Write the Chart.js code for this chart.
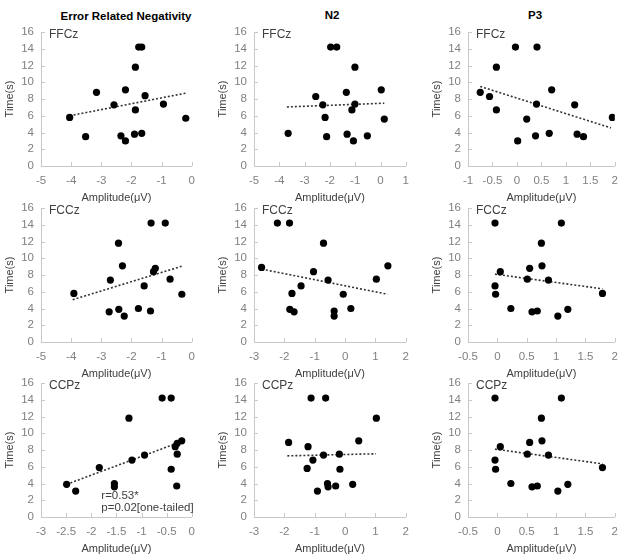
<!DOCTYPE html>
<html>
<head>
<meta charset="utf-8">
<script src="https://cdn.jsdelivr.net/npm/chart.js@4/dist/chart.umd.min.js"></script>
<style>
  html, body { margin: 0; padding: 0; background: #fff; overflow: hidden; }
  #wrap { position: relative; width: 626px; height: 558px; }
  #wrap canvas { position: absolute; }
  .colTitle {
    position: absolute; transform: translate(-50%, -50%);
    font: bold 11.5px "Liberation Sans", Arial, sans-serif; color: #000; white-space: nowrap;
  }
</style>
</head>
<body>
<div id="wrap">
  <div class="colTitle" style="left:126px; top:16px">Error Related Negativity</div>
  <div class="colTitle" style="left:332px; top:15px">N2</div>
  <div class="colTitle" style="left:535px; top:15px">P3</div>
</div>
<script>
// Amplitude (µV) and time (s) per panel
const ernFFCzAmp = [-4.05, -3.52, -3.16, -2.58, -2.35, -2.2, -2.2, -1.87, -1.87, -1.9, -1.76, -1.66, -1.66, -1.55, -0.94, -0.2];
const ernFFCzTime = [5.8, 3.5, 8.8, 7.3, 3.6, 9.1, 3.0, 11.8, 6.7, 3.8, 14.2, 14.2, 3.9, 8.4, 7.4, 5.7];
const ernFFCzTrend = [[-4.05, 6.0], [-0.2, 8.7]];

const n2FFCzAmp = [-3.65, -2.56, -2.28, -2.19, -2.13, -1.97, -1.73, -1.35, -1.32, -1.13, -1.07, -1.01, -1.01, -0.52, 0.03, 0.15];
const n2FFCzTime = [3.9, 8.3, 7.3, 5.8, 3.5, 14.2, 14.2, 8.8, 3.8, 6.7, 3.0, 11.8, 7.4, 3.6, 9.1, 5.6];
const n2FFCzTrend = [[-3.7, 7.05], [0.15, 7.5]];

const p3FFCzAmp = [-0.75, -0.56, -0.42, -0.42, -0.03, 0.015, 0.2, 0.38, 0.4, 0.41, 0.66, 0.71, 1.18, 1.23, 1.36, 1.95];
const p3FFCzTime = [8.8, 8.3, 11.8, 6.7, 14.2, 3.0, 5.6, 3.6, 7.4, 14.2, 3.9, 9.1, 7.3, 3.8, 3.5, 5.8];
const p3FFCzTrend = [[-0.75, 9.5], [1.92, 4.55]];

const ernFCCzAmp = [-3.91, -2.74, -2.7, -2.43, -2.42, -2.3, -2.24, -1.77, -1.58, -1.37, -1.35, -1.27, -1.21, -0.88, -0.72, -0.33];
const ernFCCzTime = [5.8, 3.6, 7.4, 11.8, 3.9, 9.1, 3.1, 4.0, 6.7, 3.7, 14.2, 8.4, 8.8, 14.2, 7.5, 5.7];
const ernFCCzTrend = [[-3.95, 5.05], [-0.33, 9.05]];

const n2FCCzAmp = [-2.75, -2.23, -1.83, -1.82, -1.75, -1.68, -1.45, -1.04, -0.71, -0.56, -0.36, -0.36, -0.06, 0.19, 1.03, 1.41];
const n2FCCzTime = [8.9, 14.2, 14.2, 3.9, 5.8, 3.6, 6.7, 8.4, 11.8, 7.4, 3.7, 3.1, 5.7, 4.0, 7.5, 9.1];
const n2FCCzTrend = [[-2.74, 8.7], [1.4, 5.7]];

const p3FCCzAmp = [-0.04, -0.04, -0.03, 0.05, 0.23, 0.51, 0.55, 0.59, 0.68, 0.75, 0.76, 0.87, 1.03, 1.09, 1.2, 1.79];
const p3FCCzTime = [14.2, 6.7, 5.7, 8.4, 4.0, 7.5, 8.8, 3.6, 3.7, 11.8, 9.1, 7.4, 3.1, 14.2, 3.9, 5.8];
const p3FCCzTrend = [[-0.04, 8.1], [1.79, 6.35]];

const ernCCPzAmp = [-2.49, -2.31, -1.84, -1.54, -1.54, -1.25, -1.19, -0.94, -0.59, -0.41, -0.41, -0.33, -0.29, -0.29, -0.3, -0.2];
const ernCCPzTime = [3.9, 3.1, 5.9, 4.0, 3.6, 11.8, 6.8, 7.4, 14.2, 14.2, 5.7, 8.4, 8.8, 7.5, 3.7, 9.1];
const ernCCPzTrend = [[-2.49, 3.9], [-0.21, 9.0]];

const n2CCPzAmp = [-1.86, -1.25, -1.22, -1.12, -1.06, -0.91, -0.71, -0.64, -0.58, -0.56, -0.31, -0.19, -0.17, 0.25, 0.45, 1.03];
const n2CCPzTime = [8.9, 5.8, 8.4, 14.2, 6.8, 3.1, 7.4, 14.2, 4.0, 3.6, 3.7, 7.5, 5.7, 3.9, 9.1, 11.8];
const n2CCPzTrend = [[-1.9, 7.3], [1.02, 7.55]];

const p3CCPzAmp = [-0.04, -0.04, -0.03, 0.05, 0.23, 0.51, 0.55, 0.59, 0.68, 0.75, 0.76, 0.87, 1.03, 1.09, 1.2, 1.79];
const p3CCPzTime = [14.2, 6.8, 5.7, 8.4, 4.0, 7.5, 8.9, 3.6, 3.7, 11.8, 9.1, 7.4, 3.1, 14.2, 3.9, 5.9];
const p3CCPzTrend = [[-0.04, 8.1], [1.79, 6.35]];

const ernNote = ["r=0.53*", "p=0.02[one-tailed]"];

const FONT = "'Liberation Sans', Arial, sans-serif";
const AXIS_GREY = "#c8c8c8";

// plot-area boxes for the 3x3 grid
const colLeft = [41, 254, 468];
const colWidth = [152, 153, 150];
const rowTop = [32, 208, 383];
const PLOT_H = 134;

// electrode label, inner tick marks and the r / p note
const panelText = {
  id: "panelText",
  afterDraw(chart, args, opts) {
    const { ctx, chartArea, scales } = chart;
    ctx.save();
    ctx.strokeStyle = AXIS_GREY;
    ctx.lineWidth = 1;
    scales.y.ticks.forEach((t) => {
      const py = Math.round(scales.y.getPixelForValue(t.value)) + 0.5;
      ctx.beginPath();
      ctx.moveTo(chartArea.left, py);
      ctx.lineTo(chartArea.left + 4, py);
      ctx.stroke();
    });
    scales.x.ticks.forEach((t) => {
      const px = Math.round(scales.x.getPixelForValue(t.value)) + 0.5;
      ctx.beginPath();
      ctx.moveTo(px, chartArea.bottom);
      ctx.lineTo(px, chartArea.bottom - 4);
      ctx.stroke();
    });
    ctx.fillStyle = "#404040";
    ctx.font = "12px " + FONT;
    ctx.textBaseline = "middle";
    ctx.textAlign = "left";
    ctx.fillText(opts.label, chartArea.left + 8, chartArea.top + 3);
    if (opts.note) {
      ctx.font = "11.5px " + FONT;
      const nx = scales.x.getPixelForValue(-1.8);
      ctx.fillText(opts.note[0], nx, scales.y.getPixelForValue(2.5));
      ctx.fillText(opts.note[1], nx, scales.y.getPixelForValue(1.05));
    }
    ctx.restore();
  },
};

function makePanel(row, col, label, amp, time, trend, xMin, xMax, xStep, note) {
  const canvas = document.createElement("canvas");
  const w = colWidth[col] + 41 + (col === 2 ? 8 : 10);
  const h = 30 + PLOT_H + 40;
  canvas.width = w;
  canvas.height = h;
  canvas.style.left = colLeft[col] - 41 + "px";
  canvas.style.top = rowTop[row] - 30 + "px";
  document.getElementById("wrap").appendChild(canvas);

  new Chart(canvas.getContext("2d"), {
    type: "scatter",
    data: {
      datasets: [
        {
          data: amp.map((a, i) => ({ x: a, y: time[i] })),
          backgroundColor: "#000",
          borderWidth: 0,
          pointRadius: 3.6,
        },
        {
          data: trend.map((p) => ({ x: p[0], y: p[1] })),
          showLine: true,
          borderColor: "#333",
          borderWidth: 1.6,
          borderDash: [2, 2],
          pointRadius: 0,
        },
      ],
    },
    options: {
      responsive: false,
      animation: false,
      devicePixelRatio: 1,
      layout: { padding: { left: 0, right: col === 2 ? 8 : 10, top: 30, bottom: 0 } },
      plugins: {
        legend: { display: false },
        tooltip: { enabled: false },
        panelText: { label: label, note: note },
      },
      scales: {
        x: {
          type: "linear",
          min: xMin,
          max: xMax,
          afterFit: (axis) => { axis.height = 40; },
          border: { display: true, color: AXIS_GREY },
          grid: { drawOnChartArea: false, drawTicks: false },
          ticks: {
            stepSize: xStep,
            autoSkip: false,
            maxRotation: 0,
            padding: 8,
            color: "#808080",
            font: { family: FONT, size: 11.5 },
            callback: (v) => String(Math.round(v * 10) / 10),
          },
          title: {
            display: true,
            text: "Amplitude(μV)",
            color: "#404040",
            font: { family: FONT, size: 11 },
            padding: { top: 0, bottom: 1 },
          },
        },
        y: {
          min: 0,
          max: 16,
          afterFit: (axis) => { axis.width = 41; },
          border: { display: true, color: AXIS_GREY },
          grid: { drawOnChartArea: false, drawTicks: false },
          ticks: {
            stepSize: 2,
            autoSkip: false,
            padding: 7,
            color: "#808080",
            font: { family: FONT, size: 11.5 },
          },
          title: {
            display: true,
            text: "Time(s)",
            color: "#404040",
            font: { family: FONT, size: 11 },
            padding: { top: 3, bottom: 0 },
          },
        },
      },
    },
    plugins: [panelText],
  });
}

makePanel(0, 0, "FFCz", ernFFCzAmp, ernFFCzTime, ernFFCzTrend, -5, 0, 1);
makePanel(0, 1, "FFCz", n2FFCzAmp, n2FFCzTime, n2FFCzTrend, -5, 1, 1);
makePanel(0, 2, "FFCz", p3FFCzAmp, p3FFCzTime, p3FFCzTrend, -1, 2, 0.5);
makePanel(1, 0, "FCCz", ernFCCzAmp, ernFCCzTime, ernFCCzTrend, -5, 0, 1);
makePanel(1, 1, "FCCz", n2FCCzAmp, n2FCCzTime, n2FCCzTrend, -3, 2, 1);
makePanel(1, 2, "FCCz", p3FCCzAmp, p3FCCzTime, p3FCCzTrend, -0.5, 2, 0.5);
makePanel(2, 0, "CCPz", ernCCPzAmp, ernCCPzTime, ernCCPzTrend, -3, 0, 0.5, ernNote);
makePanel(2, 1, "CCPz", n2CCPzAmp, n2CCPzTime, n2CCPzTrend, -3, 2, 1);
makePanel(2, 2, "CCPz", p3CCPzAmp, p3CCPzTime, p3CCPzTrend, -0.5, 2, 0.5);
</script>
</body>
</html>
